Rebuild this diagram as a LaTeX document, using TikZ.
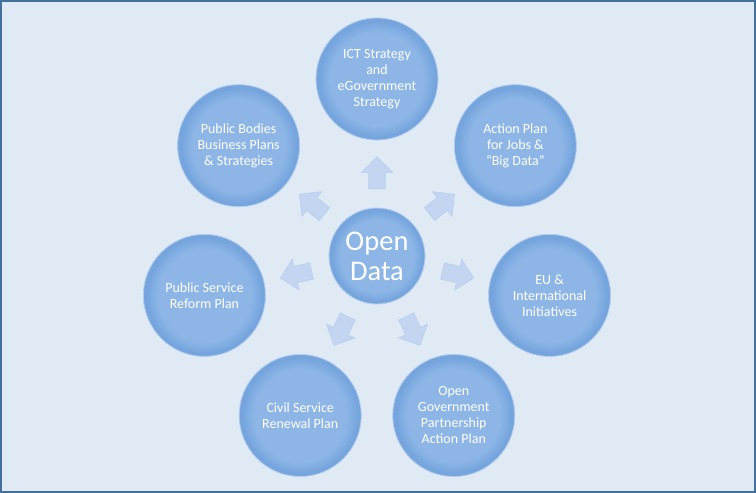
\documentclass[tikz,border=0pt]{standalone}
\usepackage{fontspec}
\setmainfont{Carlito}
\usetikzlibrary{shapes.arrows}
\definecolor{kbg}{HTML}{DFEAF5}
\definecolor{kframe}{HTML}{41719C}
\definecolor{kin}{HTML}{8DB6E6}
\definecolor{kedge}{HTML}{76A5DE}
\definecolor{krim}{HTML}{B3CDEE}
\definecolor{karrow}{HTML}{C3D5F1}
\pgfdeclareradialshading{kball}{\pgfpoint{0bp}{0bp}}{color(0bp)=(kin); color(19bp)=(kin); color(23.5bp)=(kedge); color(25bp)=(kedge); color(50bp)=(kedge)}
\tikzset{
  plan/.style={circle, minimum size=122pt, inner sep=0pt, shading=kball, draw=krim, line width=0.8pt,
    text=white, align=center, font=\fontsize{14}{16}\selectfont},
  core/.style={plan, minimum size=96pt, font=\fontsize{28.5}{30}\selectfont},
  outarrow/.style={single arrow, single arrow head extend=7.5pt, minimum height=32pt,
    inner xsep=0pt, inner ysep=8pt, fill=karrow, draw=krim!80!karrow, line width=0.6pt}
}
\begin{document}
\begin{tikzpicture}[x=1pt,y=1pt]
\pgfmathsetmacro{\kring}{177}
\pgfmathsetmacro{\kgap}{79}
% frame
\fill[kbg](-377,-237) rectangle (379,256);
\draw[kframe,line width=2.5pt](-375.75,-235.75) rectangle (377.75,254.75);
\useasboundingbox(-377,-237) rectangle (379,256);
\node[core](od) at (0,0){Open\\Data};
\foreach \k/\ang/\txt in {1/90/{ICT Strategy\\and\\eGovernment\\Strategy},
  2/38.57/{Action Plan\\for Jobs \&\\“Big Data”},
  3/-12.86/{EU \&\\International\\Initiatives},
  4/-64.29/{Open\\Government\\Partnership\\Action Plan},
  5/-115.71/{Civil Service\\Renewal Plan},
  6/192.86/{Public Service\\Reform Plan},
  7/141.43/{Public Bodies\\Business Plans\\\& Strategies}}{
  \node[plan](p\k) at (\ang:\kring){\txt};
  \node[outarrow,rotate=\ang](a\k) at (\ang:\kgap){};
}
\end{tikzpicture}
\end{document}
